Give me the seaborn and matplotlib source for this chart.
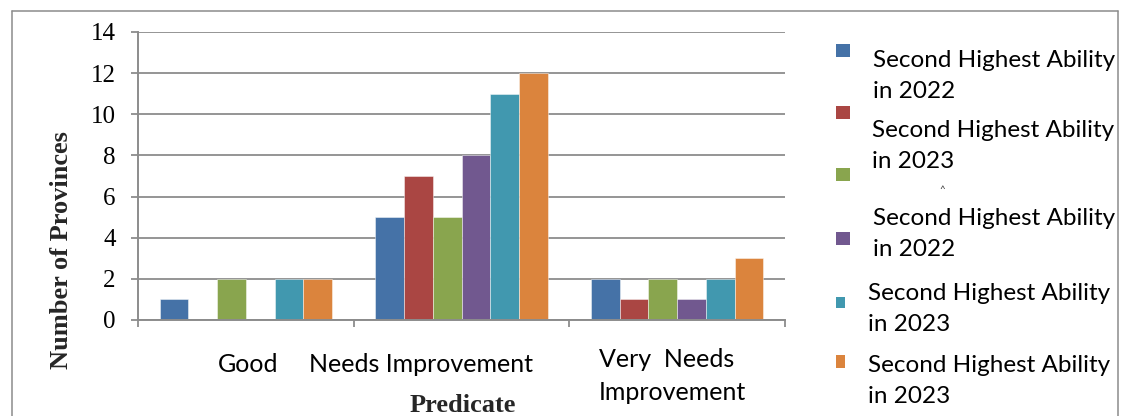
import matplotlib
matplotlib.use("Agg")
import matplotlib.pyplot as plt
from matplotlib.patches import Rectangle
from matplotlib.lines import Line2D
import matplotlib.transforms as mtransforms
import seaborn as sns
import pandas as pd

# ---- data -------------------------------------------------------------
categories = ["Good", "Needs Improvement", "Very Needs Improvement"]
series_ids = ["s1", "s2", "s3", "s4", "s5", "s6"]
series_labels = [
    "Second Highest Ability\nin 2022",
    "Second Highest Ability\nin 2023",
    "",
    "Second Highest Ability\nin 2022",
    "Second Highest Ability\nin 2023",
    "Second Highest Ability\nin 2023",
]
s1 = [1, 5, 2]
s2 = [0, 7, 1]
s3 = [2, 5, 2]
s4 = [0, 8, 1]
s5 = [2, 11, 2]
s6 = [2, 12, 3]
yticks = [0, 2, 4, 6, 8, 10, 12, 14]
colors = ["#4572A7", "#AA4643", "#89A54E", "#71588F", "#4198AF", "#DB843D"]

values = [s1, s2, s3, s4, s5, s6]
rows = []
for sid, vals in zip(series_ids, values):
    for cat, v in zip(categories, vals):
        rows.append({"Predicate": cat, "Series": sid, "Count": v})
df = pd.DataFrame(rows)

# ---- figure -----------------------------------------------------------
W, H = 1125, 416
sns.set_theme(style="white")
plt.rcParams["font.family"] = ["Lato", "DejaVu Sans"]
fig = plt.figure(figsize=(W / 100, H / 100), dpi=100)
fig.patch.set_facecolor("white")


def fx(x):
    return x / W


def fy(y):
    return 1 - y / H


grey = "#8c8c8c"

ax = fig.add_axes([fx(138), fy(320), fx(785) - fx(138), fy(32) - fy(320)])
sns.barplot(
    data=df, x="Predicate", y="Count", hue="Series", order=categories,
    hue_order=series_ids, palette=colors, saturation=1, width=0.8,
    edgecolor=(1, 1, 1, 0.45), linewidth=0.7, legend=False, ax=ax,
)

ax.set_xlim(-0.5, 2.5)
ax.set_ylim(0, 14)
ax.set_yticks(yticks)
ax.set_yticklabels([str(t) for t in yticks], family="Liberation Serif",
                   fontsize=18, color="black")
ax.set_xticks([-0.5, 0.5, 1.5, 2.5])
ax.set_xticklabels([])
ax.set_xlabel("")
ax.set_ylabel("")
ax.yaxis.grid(True, color=grey, linewidth=1.3)
ax.set_axisbelow(True)
for side in ("top", "right"):
    ax.spines[side].set_visible(False)
for side in ("left", "bottom"):
    ax.spines[side].set_color(grey)
    ax.spines[side].set_linewidth(1.4)
ax.tick_params(axis="y", direction="out", length=5, width=1.3, color=grey,
               pad=11, left=True)
ax.tick_params(axis="x", direction="out", length=5, width=1.3, color=grey,
               bottom=True)

# category captions under the axis
trans = mtransforms.blended_transform_factory(ax.transData, ax.transAxes)
cat_font = dict(fontsize=18, color="black", family=["Lato", "DejaVu Sans"])
ax.text(0.011, -0.156, "Good", transform=trans, ha="center", va="center",
        **cat_font)
ax.text(0.81, -0.156, "Needs Improvement", transform=trans, ha="center",
        va="center", **cat_font)
ax.text(1.636, -0.195, "Very  Needs\nImprovement", transform=trans, ha="left",
        va="center", linespacing=1.55, **cat_font)

# axis titles
fig.text(fx(62), fy(250), "Number of Provinces", rotation=90, ha="center",
         va="center", family="Liberation Serif", fontweight="bold", fontsize=19)
fig.text(fx(463), fy(405), "Predicate", ha="center", va="center",
         family="Liberation Serif", fontweight="bold", fontsize=19)

# legend swatches and captions
leg_font = dict(fontsize=17.5, color="black", family=["Lato", "DejaVu Sans"])
swatches = [(836, 44, 14, 13), (836, 106, 14, 13), (836, 168, 14, 13),
            (836, 232, 14, 13), (836, 297, 9, 11), (836, 355, 9, 13)]
captions = [(873, 76), (872, 146), None, (873, 234), (868, 309), (868, 381)]
for (x, y, w, h), col, lab, cap in zip(swatches, colors, series_labels, captions):
    fig.patches.append(Rectangle((fx(x), fy(y + h)), fx(w), h / H,
                                 transform=fig.transFigure, facecolor=col,
                                 edgecolor="none"))
    if cap is not None and lab:
        fig.text(fx(cap[0]), fy(cap[1]), lab, ha="left", va="center",
                 linespacing=1.55, **leg_font)
fig.text(fx(942), fy(190), "^", ha="center", va="center", fontsize=7,
         color="#333333")

# outer frame
frame = [((12, 12), (416, 11)), ((12, 1118), (11, 11)), ((1118, 1118), (11, 416))]
for xs, ys in frame:
    fig.lines.append(Line2D([fx(xs[0]), fx(xs[1])], [fy(ys[0]), fy(ys[1])],
                            transform=fig.transFigure, color=grey, linewidth=1.1))

fig.savefig("out.png", dpi=100, facecolor="white")
